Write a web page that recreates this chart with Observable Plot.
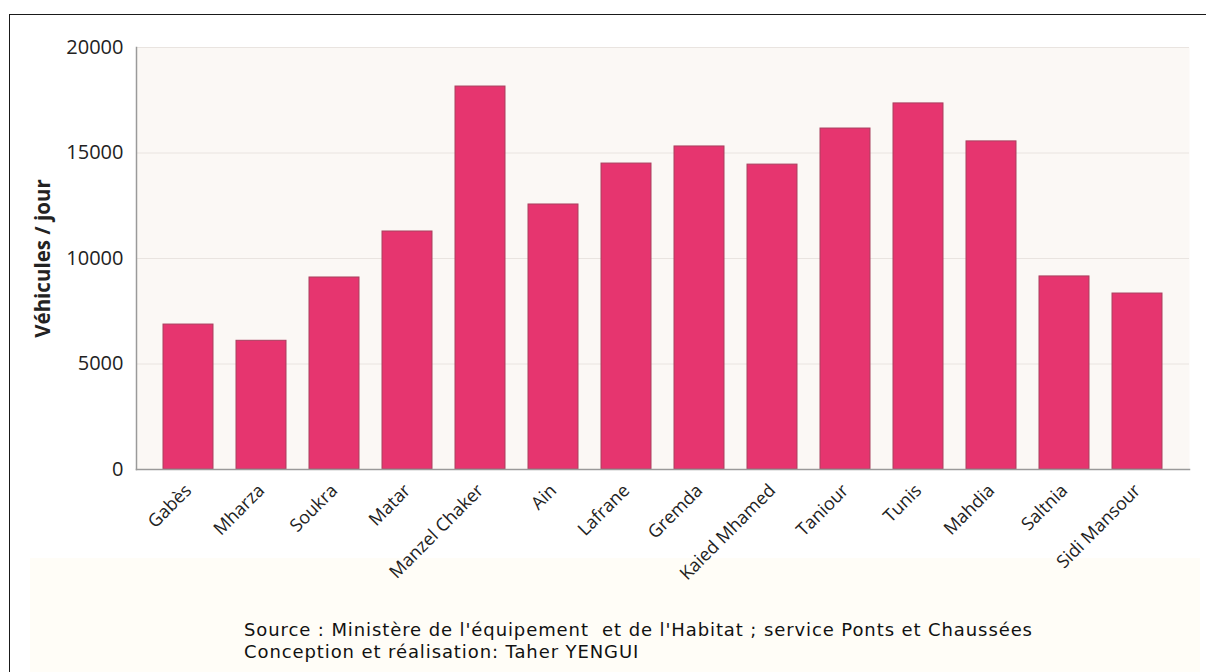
<!DOCTYPE html>
<html>
<head>
<meta charset="utf-8">
<script src="https://cdn.jsdelivr.net/npm/d3@7"></script>
<script src="https://cdn.jsdelivr.net/npm/@observablehq/plot@0.6"></script>
<style>
  html, body { margin: 0; padding: 0; background: #ffffff; }
  #wrap { position: relative; width: 1206px; height: 672px; overflow: hidden; }
  #cream { position: absolute; left: 30px; top: 558px; width: 1170px; height: 120px; background: #fffdf7; }
  #border { position: absolute; left: 9px; top: 14px; width: 1400px; height: 900px; border-left: 1.5px solid #1a1a1a; border-top: 1.5px solid #1a1a1a; }
  #chart { position: absolute; left: 0; top: 0; }
  #caption { position: absolute; left: 244px; top: 619px; font-family: "DejaVu Sans", sans-serif; font-size: 18px; letter-spacing: 0.9px; line-height: 22px; color: #111; white-space: pre; }
</style>
</head>
<body>
<div id="wrap">
  <div id="cream"></div>
  <div id="border"></div>
  <div id="chart"></div>
  <div id="caption"></div>
</div>
<script>
const categories = ["Gabès", "Mharza", "Soukra", "Matar", "Manzel Chaker", "Ain", "Lafrane", "Gremda", "Kaied Mhamed", "Taniour", "Tunis", "Mahdia", "Saltnia", "Sidi Mansour"];
const vehiclesPerDay = [6870, 6100, 9100, 11280, 18150, 12560, 14500, 15310, 14450, 16160, 17350, 15550, 9150, 8340];
const yTicks = [0, 5000, 10000, 15000, 20000];
const yLabel = "Véhicules / jour";
const captionLines = ["Source : Ministère de l'équipement  et de l'Habitat ; service Ponts et Chaussées", "Conception et réalisation: Taher YENGUI"];

const data = categories.map((c, i) => ({category: c, value: vehiclesPerDay[i]}));

const chart = Plot.plot({
  width: 1206,
  height: 610,
  marginTop: 47,
  marginBottom: 141,
  marginLeft: 136,
  marginRight: 17,
  style: {background: "transparent", fontFamily: "'Open Sans', sans-serif"},
  x: {domain: categories, paddingInner: 0.32, paddingOuter: 0.34, label: null},
  y: {domain: [0, 20000], ticks: yTicks, label: null},
  marks: [
    Plot.frame({fill: "#fbf8f5", stroke: null}),
    Plot.gridY(yTicks.filter(d => d > 0), {stroke: "#e9e4e0", strokeOpacity: 1, strokeWidth: 1}),
    Plot.barY(data, {x: "category", y: "value", fill: "#e6356f", stroke: "#a9405f", strokeWidth: 1}),
    Plot.frame({anchor: "left", stroke: "#9a9a9a", strokeWidth: 1.5}),
    Plot.frame({anchor: "bottom", stroke: "#9a9a9a", strokeWidth: 1.5}),
    Plot.axisY(yTicks, {tickSize: 0, tickPadding: 13, fontSize: 20, fill: "#222", tickFormat: d => String(d), label: null}),
    Plot.axisX({tickSize: 0, tickPadding: 18, tickRotate: -45, fontSize: 18, fill: "#222", label: null}),
    Plot.text([yLabel], {frameAnchor: "left", dx: -93, rotate: -90, textAnchor: "middle", text: d => d, fontSize: 20.5, fontWeight: "bold", fill: "#222"})
  ]
});
document.getElementById("chart").appendChild(chart);
document.getElementById("caption").textContent = captionLines.join("\n");
</script>
</body>
</html>
